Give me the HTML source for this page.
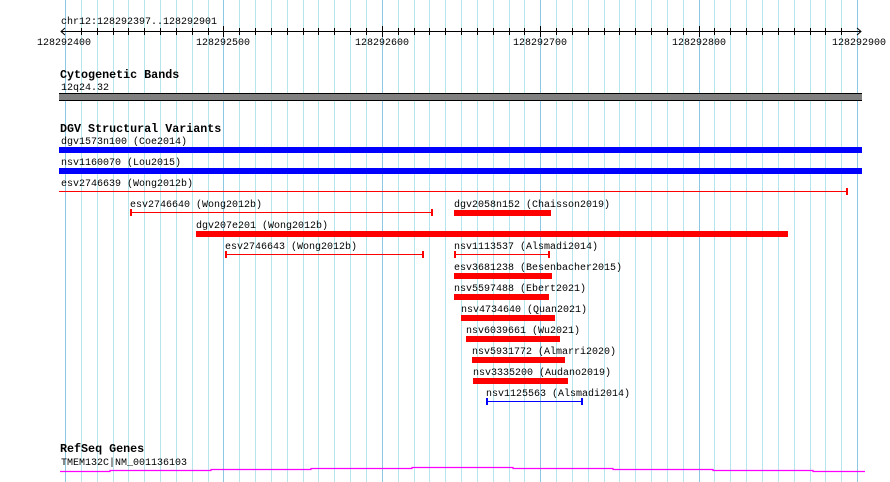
<!DOCTYPE html>
<html><head><style>
html,body{margin:0;padding:0;background:#fff;}
svg{display:block;}
text{font-family:"Liberation Mono",monospace;font-size:10px;fill:#000;}
.b{font-weight:bold;font-size:11.7px;}
</style></head><body>
<svg width="890" height="482" xmlns="http://www.w3.org/2000/svg">
<path stroke="#b4e6ec" stroke-width="1" fill="none" d="M81.5 0V482M97.5 0V482M113.5 0V482M128.5 0V482M144.5 0V482M160.5 0V482M176.5 0V482M192.5 0V482M208.5 0V482M239.5 0V482M255.5 0V482M271.5 0V482M287.5 0V482M303.5 0V482M318.5 0V482M334.5 0V482M350.5 0V482M366.5 0V482M398.5 0V482M414.5 0V482M429.5 0V482M445.5 0V482M461.5 0V482M477.5 0V482M493.5 0V482M509.5 0V482M524.5 0V482M556.5 0V482M572.5 0V482M588.5 0V482M604.5 0V482M619.5 0V482M635.5 0V482M651.5 0V482M667.5 0V482M683.5 0V482M714.5 0V482M730.5 0V482M746.5 0V482M762.5 0V482M778.5 0V482M794.5 0V482M810.5 0V482M825.5 0V482M841.5 0V482"/>
<path stroke="#8cc8e4" stroke-width="1" fill="none" d="M65.5 0V482M223.5 0V482M382.5 0V482M540.5 0V482M699.5 0V482M857.5 0V482"/>
<path stroke="#000" stroke-width="1" fill="none" d="M81.5 28V35M97.5 28V35M113.5 28V35M128.5 28V35M144.5 28V35M160.5 28V35M176.5 28V35M192.5 28V35M208.5 28V35M239.5 28V35M255.5 28V35M271.5 28V35M287.5 28V35M303.5 28V35M318.5 28V35M334.5 28V35M350.5 28V35M366.5 28V35M398.5 28V35M414.5 28V35M429.5 28V35M445.5 28V35M461.5 28V35M477.5 28V35M493.5 28V35M509.5 28V35M524.5 28V35M556.5 28V35M572.5 28V35M588.5 28V35M604.5 28V35M619.5 28V35M635.5 28V35M651.5 28V35M667.5 28V35M683.5 28V35M714.5 28V35M730.5 28V35M746.5 28V35M762.5 28V35M778.5 28V35M794.5 28V35M810.5 28V35M825.5 28V35M841.5 28V35M223.5 26V37M382.5 26V37M540.5 26V37M699.5 26V37"/>
<!-- ruler -->
<text x="61" y="24">chr12:128292397..128292901</text>
<line x1="61" y1="31.5" x2="861" y2="31.5" stroke="#000"/>
<path d="M65 28 L61 31.5 L65 35 M857 28 L861 31.5 L857 35" stroke="#000" fill="none"/>
<text x="64" y="45" text-anchor="middle">128292400</text>
<text x="223" y="45" text-anchor="middle">128292500</text>
<text x="382" y="45" text-anchor="middle">128292600</text>
<text x="540" y="45" text-anchor="middle">128292700</text>
<text x="699" y="45" text-anchor="middle">128292800</text>
<text x="859" y="45" text-anchor="middle">128292900</text>
<!-- cytobands -->
<text class="b" x="60" y="78">Cytogenetic Bands</text>
<text x="61" y="90">12q24.32</text>
<rect x="59" y="93" width="803" height="8" fill="#808080"/>
<line x1="59" y1="93.5" x2="862" y2="93.5" stroke="#000"/>
<line x1="59" y1="100.5" x2="862" y2="100.5" stroke="#000"/>
<!-- DGV -->
<text class="b" x="60" y="132">DGV Structural Variants</text>
<text x="61" y="144">dgv1573n100 (Coe2014)</text>
<rect x="59" y="147" width="803" height="6" fill="#0000ff"/>
<text x="61" y="165">nsv1160070 (Lou2015)</text>
<rect x="59" y="168" width="803" height="6" fill="#0000ff"/>
<text x="61" y="186">esv2746639 (Wong2012b)</text>
<line x1="59" y1="191.5" x2="847" y2="191.5" stroke="#f00"/>
<rect x="846" y="188" width="2" height="7" fill="#f00"/>

<text x="130" y="207">esv2746640 (Wong2012b)</text>
<line x1="130" y1="212.5" x2="432" y2="212.5" stroke="#f00"/>
<rect x="130" y="209" width="2" height="7" fill="#f00"/><rect x="431" y="209" width="2" height="7" fill="#f00"/>
<text x="454" y="207">dgv2058n152 (Chaisson2019)</text>
<rect x="454" y="210" width="97" height="6" fill="#f00"/>

<text x="196" y="228">dgv207e201 (Wong2012b)</text>
<rect x="196" y="231" width="592" height="6" fill="#f00"/>

<text x="225" y="249">esv2746643 (Wong2012b)</text>
<line x1="225" y1="254.5" x2="424" y2="254.5" stroke="#f00"/>
<rect x="225" y="251" width="2" height="7" fill="#f00"/><rect x="422" y="251" width="2" height="7" fill="#f00"/>
<text x="454" y="249">nsv1113537 (Alsmadi2014)</text>
<line x1="454" y1="254.5" x2="550" y2="254.5" stroke="#f00"/>
<rect x="454" y="251" width="2" height="7" fill="#f00"/><rect x="548" y="251" width="2" height="7" fill="#f00"/>

<text x="454" y="270">esv3681238 (Besenbacher2015)</text>
<rect x="454" y="273" width="98" height="6" fill="#f00"/>
<text x="454" y="291">nsv5597488 (Ebert2021)</text>
<rect x="454" y="294" width="95" height="6" fill="#f00"/>
<text x="461" y="312">nsv4734640 (Quan2021)</text>
<rect x="461" y="315" width="94" height="6" fill="#f00"/>
<text x="466" y="333">nsv6039661 (Wu2021)</text>
<rect x="466" y="336" width="94" height="6" fill="#f00"/>
<text x="472" y="354">nsv5931772 (Almarri2020)</text>
<rect x="472" y="357" width="93" height="6" fill="#f00"/>
<text x="473" y="375">nsv3335200 (Audano2019)</text>
<rect x="473" y="378" width="95" height="6" fill="#f00"/>
<text x="486" y="396">nsv1125563 (Alsmadi2014)</text>
<line x1="486" y1="401.5" x2="583" y2="401.5" stroke="#00f"/>
<rect x="486" y="398" width="2" height="7" fill="#00f"/><rect x="581" y="398" width="2" height="7" fill="#00f"/>
<!-- RefSeq -->
<text class="b" x="60" y="452">RefSeq Genes</text>
<text x="61" y="465">TMEM132C|NM_001136103</text>
<path d="M60 471.5 H110 V470.5 H211 V469.5 H311 V468.5 H412 V467.5 H513 V468.5 H613 V469.5 H713 V470.5 H813 V471.5 H865" stroke="#ff00ff" stroke-width="1.2" fill="none"/>
</svg>
</body></html>
